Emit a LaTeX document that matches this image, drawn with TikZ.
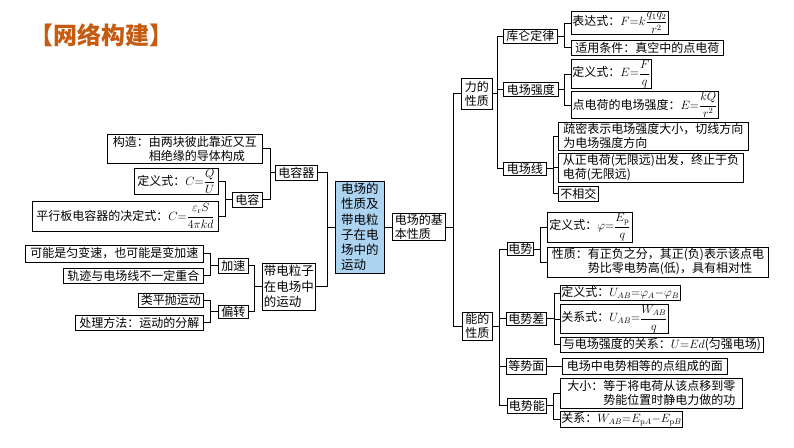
\documentclass[tikz,border=0pt]{standalone}
\usepackage{amsmath}
\usepackage{fontspec}
\newfontfamily\cjk{Noto Sans CJK SC}
\definecolor{titleor}{RGB}{197,90,17}
\definecolor{cenblue}{RGB}{172,211,240}
\tikzset{
  box/.style={draw, line width=0.9pt, inner sep=1pt, align=left, anchor=west,
    font=\cjk\fontsize{12}{14}\selectfont},
  conn/.style={line width=0.8pt},
}
\newcommand\bx[7][]{%
  \pgfmathsetmacro\bw{#5-#3}\pgfmathsetmacro\bh{#6-#4}%
  \node[box,#1,minimum width=\bw pt,minimum height=\bh pt] (#2) at ({#3},{(#4+#6)/2}) {#7};}
\begin{document}
\begin{tikzpicture}[x=1pt,y=-1pt]
\useasboundingbox (0,0) rectangle (794,447);
\node[font=\cjk\bfseries\fontsize{24}{27}\selectfont, text=titleor] (title) at (101,35) {【网络构建】};
% ---------- left ----------
\bx{gz}{107}{134}{262}{163}{构造：由两块彼此靠近又互\\\hspace*{3em}相绝缘的导体构成}
\bx{drq}{275}{165}{317}{180}{电容器}
\bx{dyC}{134}{169}{218}{194}{定义式：$C{=}\dfrac{Q}{U}$}
\bx{dr}{232}{192}{262}{207}{电容}
\bx{pxb}{32}{201}{218}{231}{平行板电容器的决定式：$C{=}\dfrac{\varepsilon_{\mathrm r}S}{4\pi kd}$}
\bx[fill=cenblue,font=\cjk\fontsize{12.5}{15.2}\selectfont]{cen}{335}{181}{384}{273}{电场的\\性质及\\带电粒\\子在电\\场中的\\运动}
\bx[font=\cjk\fontsize{12.5}{15.5}\selectfont]{ddlz}{262}{263}{315}{310}{带电粒子\\在电场中\\的运动}
\bx{js}{218}{258}{248}{273}{加速}
\bx{pz}{218}{305}{248}{318}{偏转}
\bx{kn}{25}{245}{203}{262}{可能是匀变速，也可能是变加速}
\bx{gj}{63}{268}{203}{283}{轨迹与电场线不一定重合}
\bx{lp}{138}{293}{203}{307}{类平抛运动}
\bx{cl}{75}{315}{203}{330}{处理方法：运动的分解}
\bx[font=\cjk\fontsize{12}{14}\selectfont]{jb}{392}{215}{445}{239}{电场的基\\本性质}
% ---------- right ----------
\bx{ldxz}{461}{78}{492}{109}{力的\\性质}
\bx{kl}{503}{29}{557}{43}{库仑定律}
\bx{bds}{571}{12}{665}{34}{表达式：$F{=}k\dfrac{q_1q_2}{r^2}$}
\bx{syt}{571}{40}{723}{55}{适用条件：真空中的点电荷}
\bx{cq}{503}{83}{558}{96}{电场强度}
\bx{dyE}{571}{63}{650}{85}{定义式：$E{=}\dfrac{F}{q}$}
\bx{dd}{571}{92}{718}{118}{点电荷的电场强度：$E{=}\dfrac{kQ}{r^2}$}
\bx{dcx}{503}{162}{546}{175}{电场线}
\bx{sm}{558}{122}{748}{150}{疏密表示电场强度大小，切线方向\\为电场强度方向}
\bx{cz}{558}{153}{743}{182}{从正电荷(无限远)出发，终止于负\\电荷(无限远)}
\bx{bxj}{558}{186}{598}{201}{不相交}
\bx{ndxz}{462}{312}{492}{340}{能的\\性质}
\bx{ds}{507}{243}{533}{255}{电势}
\bx{dyphi}{547}{212}{632}{242}{定义式：$\varphi{=}\dfrac{E_{\mathrm p}}{q}$}
\bx{xz}{547}{247}{768}{277}{性质：有正负之分，其正(负)表示该点电\\\hspace*{3em}势比零电势高(低)，具有相对性}
\bx{dsc}{506}{312}{546}{325}{电势差}
\bx{dyU}{560}{286}{675}{300}{定义式：$U_{AB}{=}\varphi_A{-}\varphi_B$}
\bx{gxs}{560}{305}{662}{333}{关系式：$U_{AB}{=}\dfrac{W_{AB}}{q}$}
\bx{ydc}{560}{337}{763}{352}{与电场强度的关系：$U{=}Ed$(匀强电场)}
\bx{dsm}{506}{358}{546}{374}{等势面}
\bx{mian}{562}{358}{727}{374}{电场中电势相等的点组成的面}
\bx{dsn}{507}{398}{546}{413}{电势能}
\bx{dx}{560}{378}{742}{408}{大小：等于将电荷从该点移到零\\\hspace*{3em}势能位置时静电力做的功}
\bx{gxW}{560}{411}{672}{427}{关系：$W_{AB}{=}E_{\mathrm pA}{-}E_{\mathrm pB}$}
% ---------- junctions ----------
\coordinate (jdrq) at (270,172.5);
\coordinate (jdr) at (225,199.5);
\coordinate (jcen) at (327,227);
\coordinate (jjs) at (210,265.5);
\coordinate (jpz) at (210,311.5);
\coordinate (jddlz) at (254,286.5);
\coordinate (jjb) at (453,227);
\coordinate (jld) at (497,93.5);
\coordinate (jkl) at (564,36);
\coordinate (jcq) at (564,89.5);
\coordinate (jdcx) at (553,168.5);
\coordinate (jnd) at (499,326);
\coordinate (jds) at (540,249);
\coordinate (jdsc) at (554,318.5);
\coordinate (jdsn) at (553,405.5);
% left brackets (children on the left)
\draw[conn] (gz.east) -| (jdrq) (dr.east) -| (jdrq) (jdrq) -- (drq.west);
\draw[conn] (dyC.east) -| (jdr) (pxb.east) -| (jdr) (jdr) -- (dr.west);
\draw[conn] (drq.east) -| (jcen) (ddlz.east) -| (jcen) (jcen) -- (cen.west);
\draw[conn] (kn.east) -| (jjs) (gj.east) -| (jjs) (jjs) -- (js.west);
\draw[conn] (lp.east) -| (jpz) (cl.east) -| (jpz) (jpz) -- (pz.west);
\draw[conn] (js.east) -| (jddlz) (pz.east) -| (jddlz) (jddlz) -- (ddlz.west);
\draw[conn] (cen.east) -- (jb.west);
% right brackets (children on the right)
\draw[conn] (jb.east) -- (jjb) (jjb) |- (ldxz.west) (jjb) |- (ndxz.west);
\draw[conn] (ldxz.east) -- (jld) (jld) |- (kl.west) (jld) |- (cq.west) (jld) |- (dcx.west);
\draw[conn] (kl.east) -- (jkl) (jkl) |- (bds.west) (jkl) |- (syt.west);
\draw[conn] (cq.east) -- (jcq) (jcq) |- (dyE.west) (jcq) |- (dd.west);
\draw[conn] (dcx.east) -- (jdcx) (jdcx) |- (sm.west) (jdcx) |- (cz.west) (jdcx) |- (bxj.west);
\draw[conn] (ndxz.east) -- (jnd) (jnd) |- (ds.west) (jnd) |- (dsc.west) (jnd) |- (dsm.west) (jnd) |- (dsn.west);
\draw[conn] (ds.east) -- (jds) (jds) |- (dyphi.west) (jds) |- (xz.west);
\draw[conn] (dsc.east) -- (jdsc) (jdsc) |- (dyU.west) (jdsc) |- (gxs.west) (jdsc) |- (ydc.west);
\draw[conn] (dsm.east) -- (mian.west);
\draw[conn] (dsn.east) -- (jdsn) (jdsn) |- (dx.west) (jdsn) |- (gxW.west);
\end{tikzpicture}
\end{document}
